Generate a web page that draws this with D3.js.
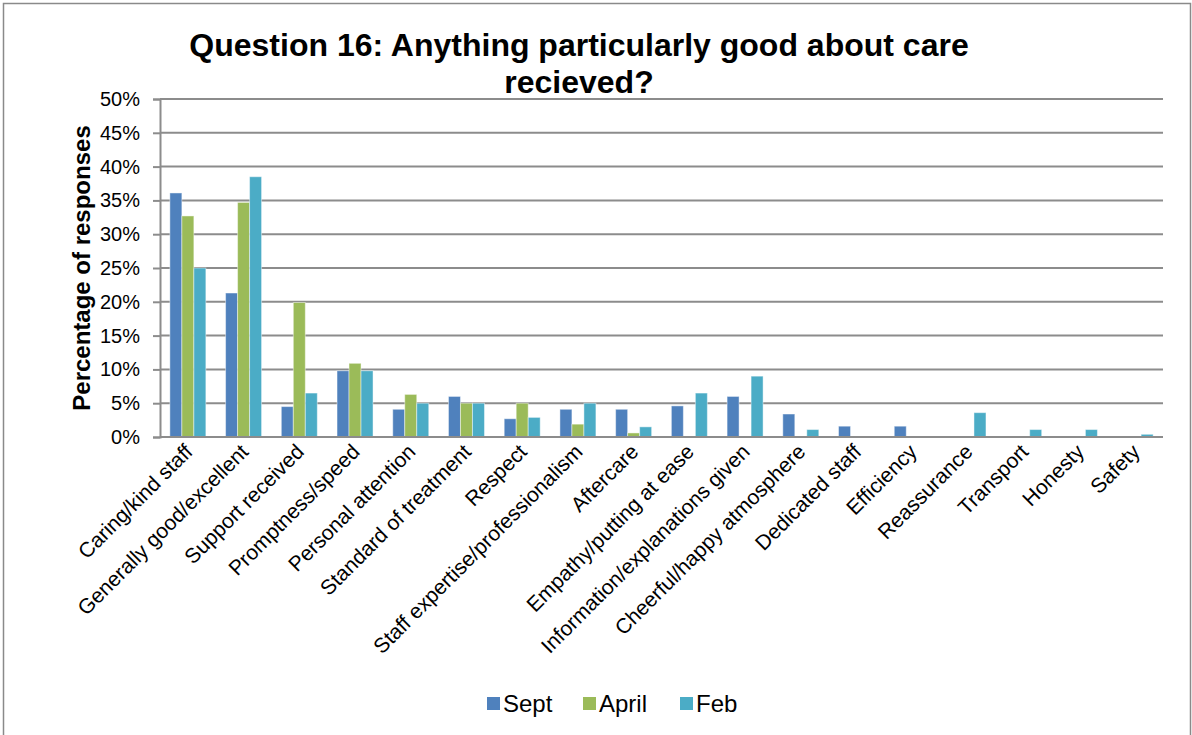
<!DOCTYPE html>
<html>
<head>
<meta charset="utf-8">
<script src="https://cdn.jsdelivr.net/npm/d3@7"></script>
<style>
  html, body { margin: 0; padding: 0; background: #fff; }
  svg { display: block; font-family: "Liberation Sans", Arial, sans-serif; }
</style>
</head>
<body>
<svg id="chart" width="1192" height="735"></svg>
<script>
// Categories of positive comments, in display order
const categories = [
  "Caring/kind staff", "Generally good/excellent", "Support received",
  "Promptness/speed", "Personal attention", "Standard of treatment",
  "Respect", "Staff expertise/professionalism", "Aftercare",
  "Empathy/putting at ease", "Information/explanations given",
  "Cheerful/happy atmosphere", "Dedicated staff", "Efficiency",
  "Reassurance", "Transport", "Honesty", "Safety"
];

// Survey rounds shown as grouped bars
const seriesNames = ["Sept", "April", "Feb"];

// Percentage of responses per category for each round
const sept  = [36.1, 21.3, 4.5, 9.8, 4.1, 6.0, 2.7, 4.1, 4.1, 4.6, 6.0, 3.4, 1.6, 1.6, 0, 0, 0, 0];
const april = [32.7, 34.7, 19.9, 10.9, 6.3, 5.0, 5.0, 1.9, 0.6, 0, 0, 0, 0, 0, 0, 0, 0, 0];
const feb   = [25.0, 38.5, 6.5, 9.8, 5.0, 5.0, 2.9, 5.0, 1.5, 6.5, 9.0, 1.1, 0, 0, 3.6, 1.1, 1.1, 0.4];

// Y axis tick values (percent)
const yTicks = [0, 5, 10, 15, 20, 25, 30, 35, 40, 45, 50];

const seriesValues = [sept, april, feb];
const colors = ["#4f81bd", "#9bbb59", "#4bacc6"];

const svg = d3.select("#chart");

// outer chart frame
svg.append("rect")
  .attr("x", 3.5).attr("y", 3.5)
  .attr("width", 1187).attr("height", 740)
  .attr("fill", "none").attr("stroke", "#8a8a8a").attr("stroke-width", 1.5);

const plot = { left: 160, right: 1163, top: 99, bottom: 437 };

const x0 = d3.scaleBand()
  .domain(categories)
  .range([plot.left, plot.right])
  .paddingInner(0.354)
  .paddingOuter(0.177);

const x1 = d3.scaleBand()
  .domain(seriesNames)
  .range([0, x0.bandwidth()]);

const y = d3.scaleLinear().domain([0, 50]).range([plot.bottom, plot.top]);

// horizontal gridlines
svg.append("g")
  .selectAll("line")
  .data(yTicks.filter(t => t > 0))
  .join("line")
  .attr("x1", plot.left).attr("x2", plot.right)
  .attr("y1", d => y(d)).attr("y2", d => y(d))
  .attr("stroke", "#8c8c8c").attr("stroke-width", 2);

// Y axis
const yAxis = svg.append("g")
  .attr("transform", `translate(${plot.left},0)`)
  .call(d3.axisLeft(y).tickValues(yTicks).tickFormat(d => d + "%").tickSize(7).tickPadding(13));
yAxis.select(".domain").attr("stroke", "#8c8c8c").attr("stroke-width", 2);
yAxis.selectAll(".tick line").attr("stroke", "#8c8c8c").attr("stroke-width", 2);
yAxis.selectAll(".tick text")
  .attr("font-size", 20).attr("fill", "#000")
  .attr("font-family", "Liberation Sans, Arial, sans-serif");

// bars
const groups = svg.append("g")
  .selectAll("g")
  .data(categories)
  .join("g")
  .attr("transform", d => `translate(${x0(d)},0)`);

groups.selectAll("rect")
  .data((d, i) => seriesNames.map((s, k) => ({ s, v: seriesValues[k][i], k })))
  .join("rect")
  .filter(d => d.v > 0)
  .attr("x", d => x1(d.s))
  .attr("y", d => y(d.v))
  .attr("width", x1.bandwidth())
  .attr("height", d => y(0) - y(d.v))
  .attr("fill", d => colors[d.k])
  .attr("stroke", "#ffffff").attr("stroke-opacity", 0.45).attr("stroke-width", 1);

// X axis baseline
svg.append("line")
  .attr("x1", plot.left).attr("x2", plot.right)
  .attr("y1", plot.bottom).attr("y2", plot.bottom)
  .attr("stroke", "#8c8c8c").attr("stroke-width", 2);

// rotated category labels
svg.append("g")
  .selectAll("text")
  .data(categories)
  .join("text")
  .attr("transform", d => `translate(${x0(d) + x0.bandwidth() / 2 + 6},${plot.bottom + 16}) rotate(-45)`)
  .attr("text-anchor", "end")
  .attr("font-size", 21)
  .attr("fill", "#000")
  .text(d => d);

// Y axis title
svg.append("text")
  .attr("transform", `translate(90,${(plot.top + plot.bottom) / 2}) rotate(-90)`)
  .attr("text-anchor", "middle")
  .attr("font-size", 24).attr("font-weight", "bold")
  .text("Percentage of responses");

// chart title
const title = svg.append("text")
  .attr("text-anchor", "middle")
  .attr("font-size", 32).attr("font-weight", "bold");
title.append("tspan").attr("x", 579).attr("y", 56).text("Question 16: Anything particularly good about care");
title.append("tspan").attr("x", 579).attr("y", 93).text("recieved?");

// legend
const legendX = [487, 583, 680];
const legend = svg.append("g")
  .selectAll("g")
  .data(seriesNames)
  .join("g")
  .attr("transform", (d, i) => `translate(${legendX[i]},697)`);
legend.append("rect")
  .attr("width", 13).attr("height", 13)
  .attr("fill", (d, i) => colors[i]);
legend.append("text")
  .attr("x", 16).attr("y", 15)
  .attr("font-size", 24)
  .text(d => d);
</script>
</body>
</html>
